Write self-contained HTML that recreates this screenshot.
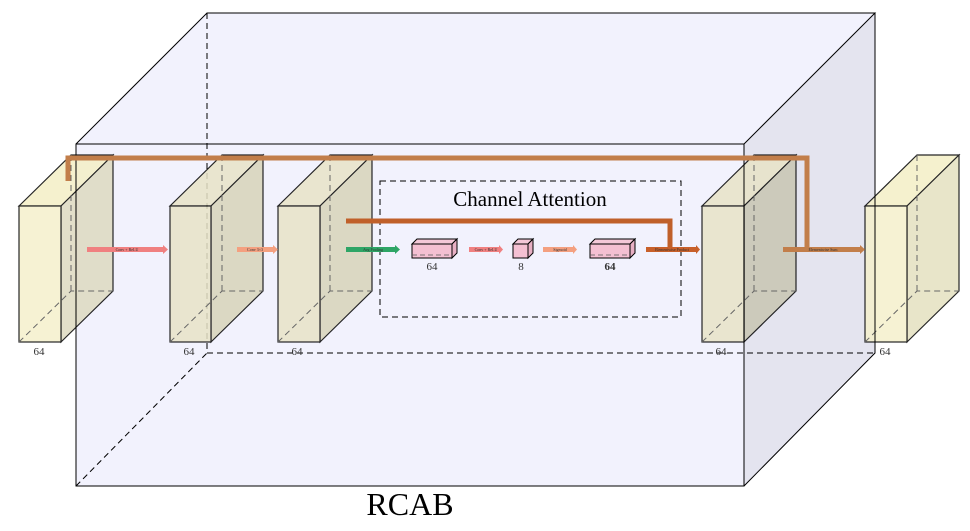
<!DOCTYPE html>
<html><head><meta charset="utf-8"><style>html,body{margin:0;padding:0;background:#fff}svg{display:block}</style></head><body>
<svg width="970" height="531" viewBox="0 0 970 531" xmlns="http://www.w3.org/2000/svg" font-family="Liberation Serif, serif">
<defs>
<g id="cube">
</g>
</defs>
<!-- big box faces -->
<polygon points="76,144 207,13 875,13 744,144" fill="#f2f2fd"/>
<rect x="76" y="144" width="668" height="342" fill="#f2f2fd"/>
<polygon points="744,144 875,13 875,353 744,486" fill="#e4e4ef"/>
<!-- hidden lines -->
<g stroke="#000" stroke-width="1" stroke-dasharray="6,4" fill="none">
<line x1="207" y1="13" x2="207" y2="353"/>
<line x1="207" y1="353" x2="875" y2="353"/>
<line x1="76" y1="486" x2="207" y2="353"/>
</g>

<!-- cubes -->
<g stroke="#000" stroke-width="1.2">
<!-- cube helper: front x0..x1, y 206..342 ; depth 52 -->
<g opacity="0.85">
<polygon points="19,206 71,155 113,155 61,206" fill="#f4efc6"/>
<polygon points="61,206 113,155 113,291 61,342" fill="#dedac0"/>
<rect x="19" y="206" width="42" height="136" fill="#f5f0cc"/>
</g>
<g opacity="0.85">
<polygon points="170,206 222,155 263,155 211,206" fill="#e8e3c8"/>
<polygon points="211,206 263,155 263,291 211,342" fill="#d8d4ba"/>
<rect x="170" y="206" width="41" height="136" fill="#e8e3c8"/>
</g>
<g opacity="0.85">
<polygon points="278,206 330,155 372,155 320,206" fill="#e8e3c8"/>
<polygon points="320,206 372,155 372,291 320,342" fill="#d8d4ba"/>
<rect x="278" y="206" width="42" height="136" fill="#e8e3c8"/>
</g>
<g opacity="0.85">
<polygon points="702,206 754,155 796,155 744,206" fill="#e8e3c8"/>
<polygon points="744,206 796,155 796,291 744,342" fill="#c8c6b2"/>
<rect x="702" y="206" width="42" height="136" fill="#e8e3c8"/>
</g>
<g opacity="0.85">
<polygon points="865,206 917,155 959,155 907,206" fill="#f4efc6"/>
<polygon points="907,206 959,155 959,291 907,342" fill="#e5e1c0"/>
<rect x="865" y="206" width="42" height="136" fill="#f5f0cc"/>
</g>
</g>
<g stroke="#666" stroke-width="1" stroke-dasharray="6,4" fill="none">
<polyline points="19,342 71,291 113,291"/><line x1="71" y1="155" x2="71" y2="291"/>
<polyline points="170,342 222,291 263,291"/><line x1="222" y1="155" x2="222" y2="291"/>
<polyline points="278,342 330,291 372,291"/><line x1="330" y1="155" x2="330" y2="291"/>
<polyline points="702,342 754,291 796,291"/><line x1="754" y1="155" x2="754" y2="291"/>
<polyline points="865,342 917,291 959,291"/><line x1="917" y1="155" x2="917" y2="291"/>
</g>

<!-- big box visible lines -->
<g stroke="#000" stroke-width="1" fill="none">
<rect x="76" y="144" width="668" height="342"/>
<polyline points="76,144 207,13 875,13 744,144"/>
<polyline points="875,13 875,353 744,486"/>
</g>

<!-- channel attention box -->
<rect x="380" y="181" width="301" height="136" fill="none" stroke="#000" stroke-dasharray="6,4"/>
<text x="530" y="206" font-size="21" text-anchor="middle">Channel Attention</text>

<!-- skip connections -->
<polyline points="68,181 68,158 807,158 807,249" fill="none" stroke="#c27e4a" stroke-width="5"/>
<polyline points="346,221 670,221 670,249" fill="none" stroke="#c0602a" stroke-width="5"/>

<!-- arrows -->
<g font-size="4" font-family="Liberation Serif, serif" text-anchor="middle" fill="#333">
<rect x="87" y="247" width="76" height="5" fill="#f08080"/><polygon points="163,245 168,249.5 163,254" fill="#f08080"/><text x="127" y="251">Conv + ReLU</text>
<rect x="237" y="247" width="36" height="5" fill="#f4a080"/><polygon points="273,245 278,249.5 273,254" fill="#f4a080"/><text x="255" y="251">Conv 3×3</text>
<rect x="346" y="247" width="49" height="5" fill="#2ea566"/><polygon points="395,245 400,249.5 395,254" fill="#2ea566"/><text x="373" y="251">Avg Pooling</text>
<rect x="469" y="247" width="30" height="5" fill="#f08080"/><polygon points="499,245 503,249.5 499,254" fill="#f08080"/><text x="486" y="251">Conv + ReLU</text>
<rect x="543" y="247" width="30" height="5" fill="#f4a080"/><polygon points="573,245 577,249.5 573,254" fill="#f4a080"/><text x="560" y="251">Sigmoid</text>
<rect x="646" y="247" width="50" height="5" fill="#c8602a"/><polygon points="696,245 700,249.5 696,254" fill="#c8602a"/><text x="672" y="251">Elementwise Product</text>
<rect x="783" y="247" width="77" height="5" fill="#c27e4a"/><polygon points="860,245 865,249.5 860,254" fill="#c27e4a"/><text x="823" y="251">Elementwise Sum</text>
</g>

<!-- small pink boxes -->
<g stroke="#000" stroke-width="1">
<polygon points="412,244 417,239 457,239 452,244" fill="#f4c8d8"/>
<polygon points="452,244 457,239 457,253 452,258" fill="#e8b0c4"/>
<rect x="412" y="244" width="40" height="14" fill="#f4c0d2"/>
<polygon points="513,244 518,239 533,239 528,244" fill="#f4c8d8"/>
<polygon points="528,244 533,239 533,253 528,258" fill="#e8b0c4"/>
<rect x="513" y="244" width="15" height="14" fill="#f4c0d2"/>
<polygon points="590,244 595,239 635,239 630,244" fill="#f4c8d8"/>
<polygon points="630,244 635,239 635,253 630,258" fill="#e8b0c4"/>
<rect x="590" y="244" width="40" height="14" fill="#f4c0d2"/>
</g>
<g stroke="#555" stroke-width="0.8" stroke-dasharray="5,3" fill="none">
<line x1="412" y1="255" x2="452" y2="255"/><line x1="590" y1="255" x2="630" y2="255"/>
</g>

<!-- labels -->
<g font-size="11" text-anchor="middle" fill="#333">
<text x="39" y="355">64</text><text x="189" y="355">64</text><text x="297" y="355">64</text>
<text x="721" y="355">64</text><text x="885" y="355">64</text>
<text x="432" y="270">64</text><text x="521" y="270">8</text><text x="610" y="270" font-weight="bold">64</text>
</g>
<text x="410" y="515" font-size="32" text-anchor="middle">RCAB</text>
</svg>
</body></html>
